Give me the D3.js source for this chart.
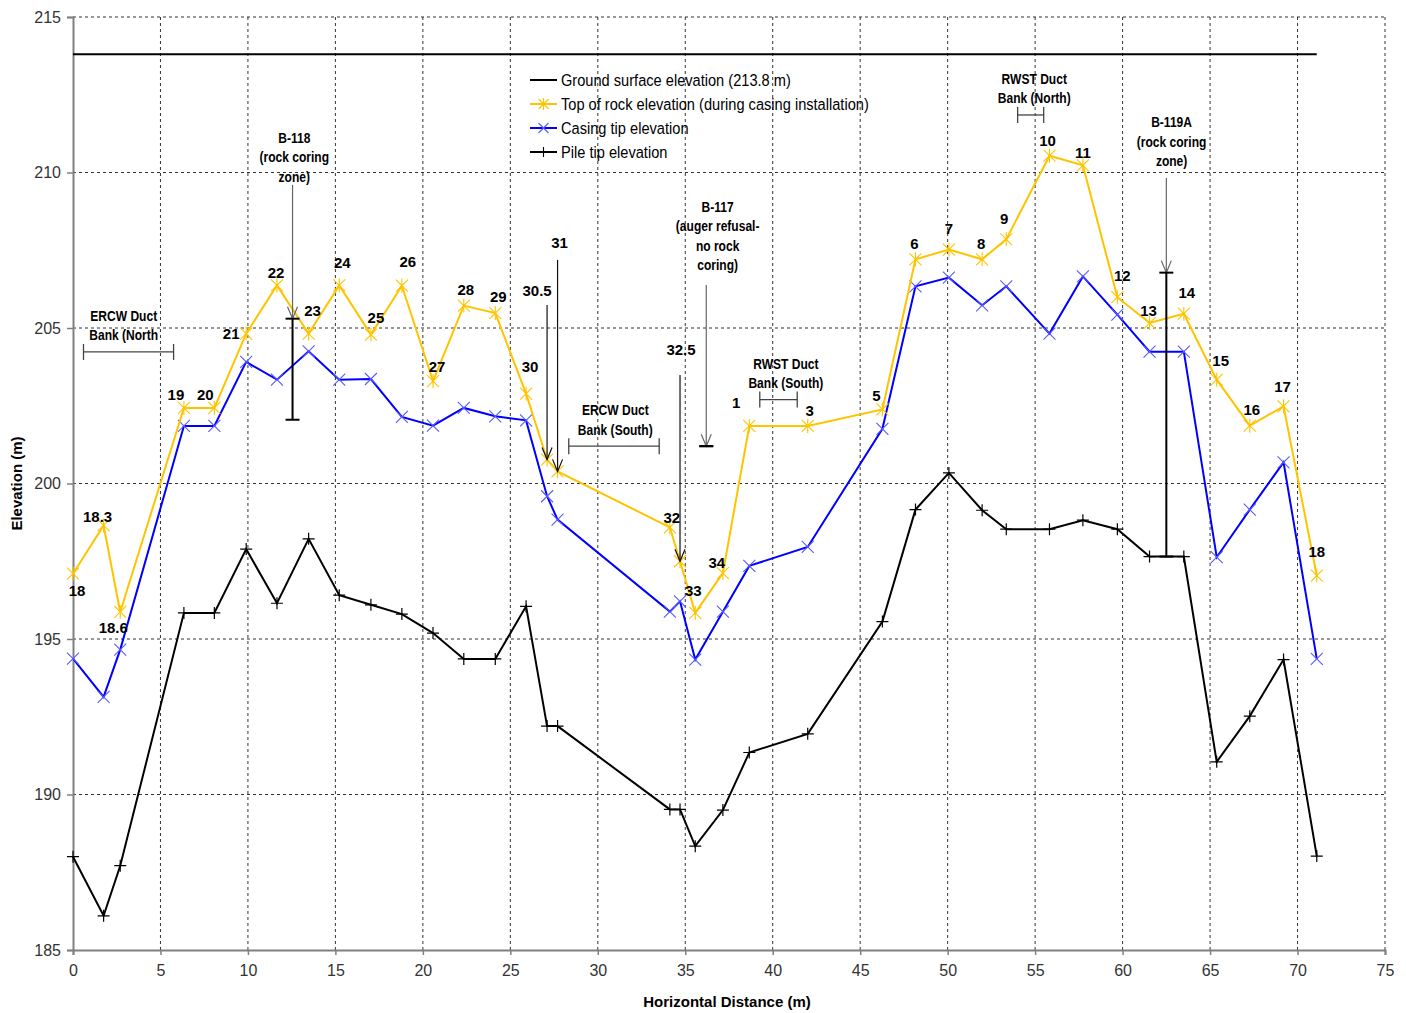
<!DOCTYPE html>
<html>
<head>
<meta charset="utf-8">
<script src="https://cdn.jsdelivr.net/npm/d3@7/dist/d3.min.js"></script>
<style>
  html, body { margin: 0; padding: 0; background: #fff; }
  svg { display: block; }
  .sans { font-family: "Liberation Sans", Arial, sans-serif; }
</style>
</head>
<body>
<svg id="chart" width="1406" height="1013"></svg>
<script>
// Pile stations along the wall (horizontal distance, m)
const distance = [0, 1.75, 2.7, 6.34, 8.08, 9.9, 11.66, 13.47, 15.22, 17.03, 18.8, 20.58, 22.34, 24.14,
  25.9, 27.1, 27.7, 34.12, 34.7, 35.57, 37.15, 38.66, 42.0, 46.27, 48.16, 50.07, 51.97, 53.35,
  55.82, 57.73, 59.7, 61.54, 63.5, 65.38, 67.27, 69.2, 71.1];

// Pile numbers
const pileIds = ["18", "18.3", "18.6", "19", "20", "21", "22", "23", "24", "25", "26", "27", "28", "29",
  "30", "30.5", "31", "32", "32.5", "33", "34", "1", "3", "5", "6", "7", "8", "9",
  "10", "11", "12", "13", "14", "15", "16", "17", "18"];

// Elevations (m)
const topOfRock = [197.1, 198.65, 195.87, 202.43, 202.43, 204.82, 206.37, 204.82, 206.37, 204.79, 206.36, 203.29, 205.72, 205.48,
  202.89, 200.77, 200.39, 198.59, 197.5, 195.84, 197.12, 201.85, 201.85, 202.38, 207.21, 207.52, 207.21, 207.85,
  210.54, 210.23, 205.99, 205.16, 205.46, 203.34, 201.86, 202.48, 197.04];

const casingTip = [194.37, 193.14, 194.66, 201.85, 201.85, 203.91, 203.34, 204.25, 203.34, 203.36, 202.14, 201.86, 202.43, 202.16,
  202.03, 199.59, 198.84, 195.88, 196.21, 194.34, 195.88, 197.35, 197.96, 201.76, 206.34, 206.62, 205.73, 206.34,
  204.82, 206.66, 205.43, 204.24, 204.24, 197.63, 199.16, 200.68, 194.36];

const pileTip = [188.0, 186.1, 187.71, 195.84, 195.84, 197.89, 196.15, 198.22, 196.41, 196.1, 195.8, 195.19, 194.36, 194.36,
  196.05, 192.2, 192.2, 189.52, 189.52, 188.34, 189.5, 191.35, 191.95, 195.56, 199.16, 200.34, 199.14, 198.53,
  198.53, 198.82, 198.53, 197.65, 197.65, 191.05, 192.52, 194.34, 188.02];

const groundElevation = 213.8;
const groundExtent = [0, 71.1];

// Axis ticks
const xTicks = d3.range(0, 80, 5);
const yTicks = d3.range(185, 220, 5);

const legendLabels = [
  "Ground surface elevation (213.8 m)",
  "Top of rock elevation (during casing installation)",
  "Casing tip elevation",
  "Pile tip elevation"
];

// Label placement (pixel offset of each pile number from its top-of-rock point; null = label drawn on a pointer)
const labelOffset = [[4, 17], [-6, -9], [-7, 16], [-8, -13], [-9, -13], [-15, 0], [-1, -13], [4, -23], [3, -23], [5, -17],
  [6, -24], [4, -14], [2, -16], [3, -16], [4, -27], null, null, [2, -10], null, [-2, -22], [-6, -10],
  [-13, -23], [2, -15], [-6, -14], [-1, -16], [0, -21], [-1, -16], [-2, -21], [-2, -15], [0, -13], [5, -21],
  [-1, -12], [3, -21], [4, -19], [2, -16], [-1, -20], [0, -24]];

// Pointers that carry the pile number above the point
const pointers = [
  { id: "30.5", top: 205.74, labelDx: -10, labelDy: -14 },
  { id: "31", top: 207.19, labelDx: 2, labelDy: -17 },
  { id: "32.5", top: 203.49, labelDx: 1, labelDy: -25 }
];

// Boreholes: text (first baseline), pointer from/to and coring zone
const boreholes = [
  { lines: ["B-118", "(rock coring", "zone)"], x: 12.55, textX: 12.65, textTop: 210.95, arrowTop: 209.6, arrowTip: 205.3, zone: [202.05, 205.3] },
  { lines: ["B-117", "(auger refusal-", "no rock", "coring)"], x: 36.2, textX: 36.85, textTop: 208.73, arrowTop: 206.38, arrowTip: 201.2, zone: [201.2, 201.2] },
  { lines: ["B-119A", "(rock coring", "zone)"], x: 62.5, textX: 62.8, textTop: 211.46, arrowTop: 209.82, arrowTip: 206.78, zone: [197.65, 206.78] }
];

// Duct banks crossing the wall
const ductBanks = [
  { lines: ["ERCW Duct", "Bank (North"], span: [0.6, 5.75], elev: 204.23, textX: 2.9 },
  { lines: ["ERCW Duct", "Bank (South)"], span: [28.34, 33.51], elev: 201.2, textX: 31.0 },
  { lines: ["RWST Duct", "Bank (South)"], span: [39.26, 41.4], elev: 202.7, textX: 40.75 },
  { lines: ["RWST Duct", "Bank (North)"], span: [54.0, 55.49], elev: 211.85, textX: 54.95 }
];

const W = 1406, H = 1013;
const margin = { left: 73, top: 17, right: 21, bottom: 63 };
const svg = d3.select("#chart");

const x = d3.scaleLinear().domain([0, 75]).range([margin.left, W - margin.right]);
const y = d3.scaleLinear().domain([185, 215]).range([H - margin.bottom, margin.top]);

const gridColor = "#333";
const axisColor = "#808080";
const rockColor = "#FFC400";
const casingColor = "#0000FF";
const condense = 0.86;

// Condensed text: drawn at (px, py) and squeezed horizontally
function narrowText(g, px, py, str, opts) {
  const t = g.append("text").attr("class", "sans")
    .attr("transform", `translate(${px},${py}) scale(${condense},1)`)
    .attr("x", 0).attr("y", 0)
    .attr("font-size", opts.size).attr("font-weight", opts.bold ? "bold" : "normal")
    .attr("text-anchor", opts.anchor || "middle").attr("fill", "#000");
  if (opts.dy) t.attr("dy", opts.dy);
  t.text(str);
  return t;
}

// Grid
const grid = svg.append("g");
grid.selectAll("line.v").data(xTicks.filter(d => d > 0)).join("line")
  .attr("x1", d => x(d)).attr("x2", d => x(d))
  .attr("y1", y(215)).attr("y2", y(185))
  .attr("stroke", gridColor).attr("stroke-width", 1).attr("stroke-dasharray", "3,3");
grid.selectAll("line.h").data(yTicks.filter(d => d > 185)).join("line")
  .attr("x1", x(0)).attr("x2", x(75))
  .attr("y1", d => y(d)).attr("y2", d => y(d))
  .attr("stroke", gridColor).attr("stroke-width", 1).attr("stroke-dasharray", "3,3");

// Axes
const xAxis = d3.axisBottom(x).tickValues(xTicks).tickSize(5).tickPadding(10).tickFormat(d3.format("d"));
const yAxis = d3.axisLeft(y).tickValues(yTicks).tickSize(6).tickPadding(6).tickFormat(d3.format("d"));

const gx = svg.append("g").attr("transform", `translate(0,${y(185)})`).call(xAxis);
const gy = svg.append("g").attr("transform", `translate(${x(0)},0)`).call(yAxis);
[gx, gy].forEach(g => {
  g.select(".domain").attr("stroke", axisColor).attr("stroke-width", 2);
  g.selectAll(".tick line").attr("stroke", axisColor).attr("stroke-width", 1.5);
  g.selectAll(".tick text").attr("class", "sans").attr("font-size", 16).attr("fill", "#333");
});

// Axis titles
svg.append("text").attr("class", "sans")
  .attr("x", 727).attr("y", 1007).attr("text-anchor", "middle")
  .attr("font-size", 15).attr("font-weight", "bold").text("Horizontal Distance (m)");
svg.append("text").attr("class", "sans")
  .attr("transform", `translate(22,${(y(185) + y(215)) / 2}) rotate(-90)`)
  .attr("text-anchor", "middle")
  .attr("font-size", 15).attr("font-weight", "bold").text("Elevation (m)");

// Ground surface
svg.append("line")
  .attr("x1", x(groundExtent[0])).attr("x2", x(groundExtent[1]))
  .attr("y1", y(groundElevation)).attr("y2", y(groundElevation))
  .attr("stroke", "#000").attr("stroke-width", 2);

// Marker shapes
function markerPath(kind, s) {
  if (kind === "star") return `M${-s},${-s}L${s},${s}M${-s},${s}L${s},${-s}M0,${-s - 1}L0,${s + 1}`;
  if (kind === "x") return `M${-s},${-s}L${s},${s}M${-s},${s}L${s},${-s}`;
  return `M${-s},0L${s},0M0,${-s}L0,${s}`;
}

const series = [
  { values: pileTip, color: "#000", marker: "plus", mcolor: "#000", mwidth: 1.2 },
  { values: casingTip, color: casingColor, marker: "x", mcolor: "#5a5aff", mwidth: 1.1 },
  { values: topOfRock, color: rockColor, marker: "star", mcolor: "#FFC400", mwidth: 1.1 }
];

const line = d3.line().x(d => x(d[0])).y(d => y(d[1]));

series.forEach(s => {
  const pts = distance.map((d, i) => [d, s.values[i]]);
  svg.append("path").datum(pts).attr("d", line)
    .attr("fill", "none").attr("stroke", s.color).attr("stroke-width", 2).attr("stroke-linejoin", "miter");
  svg.append("g").selectAll("path").data(pts).join("path")
    .attr("transform", d => `translate(${x(d[0])},${y(d[1])})`)
    .attr("d", markerPath(s.marker, 6))
    .attr("fill", "none").attr("stroke", s.mcolor).attr("stroke-width", s.mwidth);
});

// Pointer line with an open arrow head at the lower end
function arrow(g, px, yTop, yTip, color) {
  g.append("line").attr("x1", px).attr("x2", px).attr("y1", yTop).attr("y2", yTip)
    .attr("stroke", color).attr("stroke-width", 1.2);
  g.append("path").attr("d", `M${px - 5},${yTip - 12}L${px},${yTip}L${px + 5},${yTip - 12}`)
    .attr("fill", "none").attr("stroke", color).attr("stroke-width", 1.2);
}

// Pile number labels
const labels = svg.append("g").attr("class", "sans").attr("font-size", 15).attr("font-weight", "bold")
  .attr("text-anchor", "middle").attr("fill", "#000");
distance.forEach((d, i) => {
  const off = labelOffset[i];
  if (!off) return;
  labels.append("text")
    .attr("x", x(d) + off[0]).attr("y", y(topOfRock[i]) + off[1])
    .attr("dy", "0.35em").text(pileIds[i]);
});

// Pointers for piles whose numbers sit above the section
const ptr = svg.append("g");
pointers.forEach(p => {
  const i = pileIds.indexOf(p.id);
  const px = x(distance[i]);
  arrow(ptr, px, y(p.top), y(topOfRock[i]), "#111");
  labels.append("text").attr("x", px + p.labelDx)
    .attr("y", y(p.top) + p.labelDy).attr("dy", "0.35em").text(p.id);
});

// Boreholes
const bh = svg.append("g");
boreholes.forEach(b => {
  const px = x(b.x);
  arrow(bh, px, y(b.arrowTop), y(b.arrowTip), "#666");
  b.lines.forEach((ln, k) => {
    narrowText(bh, x(b.textX), y(b.textTop) + k * 19.5, ln, { size: 14, bold: true });
  });
  // Coring zone / refusal bar
  bh.append("line").attr("x1", px).attr("x2", px).attr("y1", y(b.zone[1])).attr("y2", y(b.zone[0]))
    .attr("stroke", "#000").attr("stroke-width", 2);
  [b.zone[0], b.zone[1]].forEach(z => {
    bh.append("line").attr("x1", px - 7).attr("x2", px + 7).attr("y1", y(z)).attr("y2", y(z))
      .attr("stroke", "#000").attr("stroke-width", 2);
  });
});

// Duct banks
const db = svg.append("g");
ductBanks.forEach(b => {
  const py = y(b.elev);
  db.append("line").attr("x1", x(b.span[0])).attr("x2", x(b.span[1])).attr("y1", py).attr("y2", py)
    .attr("stroke", "#444").attr("stroke-width", 1.3);
  b.span.forEach(s => {
    db.append("line").attr("x1", x(s)).attr("x2", x(s)).attr("y1", py - 8).attr("y2", py + 8)
      .attr("stroke", "#444").attr("stroke-width", 1.3);
  });
  b.lines.forEach((ln, k) => {
    narrowText(db, x(b.textX), py - 31 + k * 19.5, ln, { size: 14, bold: true });
  });
});

// Legend
const legend = svg.append("g").attr("transform", "translate(530,80)");
const legendItems = [
  { color: "#000", marker: null },
  { color: rockColor, marker: "star", mcolor: "#FFC400" },
  { color: casingColor, marker: "x", mcolor: "#5a5aff" },
  { color: "#000", marker: "plus", mcolor: "#000" }
];
legendLabels.forEach((lab, i) => {
  const g = legend.append("g").attr("transform", `translate(0,${i * 24})`);
  const it = legendItems[i];
  g.append("line").attr("x1", 0).attr("x2", 27).attr("y1", 0).attr("y2", 0)
    .attr("stroke", it.color).attr("stroke-width", 2);
  if (it.marker) {
    g.append("path").attr("transform", "translate(13.5,0)").attr("d", markerPath(it.marker, 5))
      .attr("fill", "none").attr("stroke", it.mcolor).attr("stroke-width", 1.1);
  }
  narrowText(g, 31, 0, lab, { size: 17, anchor: "start", dy: "0.35em" });
});
</script>
</body>
</html>
